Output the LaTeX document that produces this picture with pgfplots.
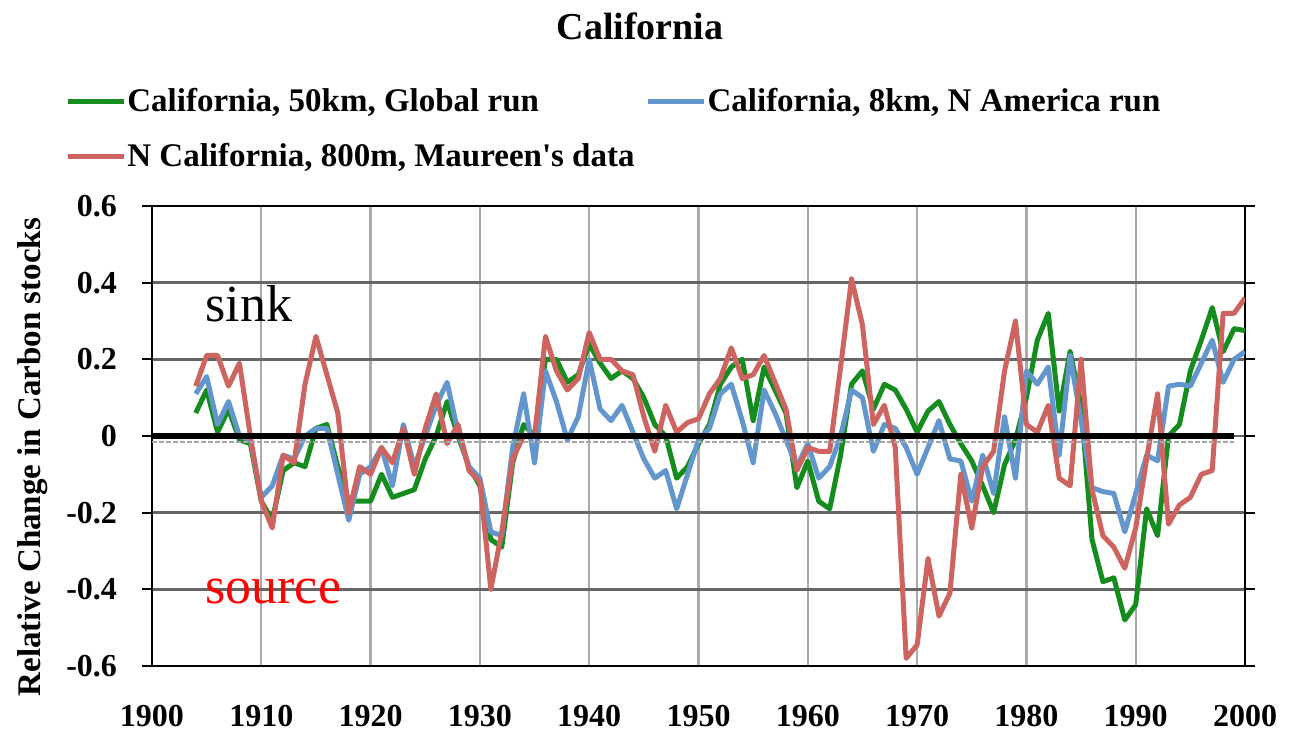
\documentclass[border=0pt]{standalone}
\usepackage{pgfplots}
\usepackage{pgfplotstable}
\pgfplotsset{compat=1.18}
\usepackage{fontspec}
\setmainfont{Liberation Serif}

\definecolor{cgreen}{RGB}{20,140,30}
\definecolor{cblue}{RGB}{98,150,205}
\definecolor{cred}{RGB}{205,100,95}

\pgfplotstableread{
year g b r
1904 0.06 0.11 0.13
1905 0.12 0.155 0.21
1906 0.01 0.03 0.21
1907 0.07 0.09 0.13
1908 -0.01 0.00 0.19
1909 -0.02 -0.01 0.00
1910 -0.17 -0.16 -0.17
1911 -0.22 -0.13 -0.24
1912 -0.09 -0.05 -0.05
1913 -0.07 -0.06 -0.07
1914 -0.08 0.00 0.135
1915 0.02 0.02 0.26
1916 0.03 0.02 0.16
1917 -0.08 -0.10 0.06
1918 -0.17 -0.22 -0.20
1919 -0.17 -0.10 -0.08
1920 -0.17 -0.08 -0.10
1921 -0.10 -0.03 -0.03
1922 -0.16 -0.13 -0.07
1923 -0.15 0.03 0.02
1924 -0.14 -0.08 -0.10
1925 -0.06 0.00 0.02
1926 0.00 0.08 0.11
1927 0.09 0.14 -0.02
1928 0.00 0.01 0.03
1929 -0.08 -0.08 -0.09
1930 -0.13 -0.11 -0.12
1931 -0.27 -0.25 -0.40
1932 -0.29 -0.26 -0.25
1933 -0.07 -0.03 -0.06
1934 0.03 0.11 0.00
1935 0.00 -0.07 0.00
1936 0.20 0.17 0.26
1937 0.20 0.09 0.17
1938 0.14 -0.01 0.12
1939 0.16 0.05 0.15
1940 0.24 0.20 0.27
1941 0.19 0.07 0.20
1942 0.15 0.04 0.20
1943 0.17 0.08 0.17
1944 0.15 0.01 0.16
1945 0.10 -0.06 0.05
1946 0.03 -0.11 -0.04
1947 0.00 -0.09 0.08
1948 -0.11 -0.19 0.01
1949 -0.08 -0.10 0.035
1950 -0.02 -0.01 0.045
1951 0.03 0.02 0.11
1952 0.135 0.11 0.15
1953 0.18 0.135 0.23
1954 0.20 0.04 0.15
1955 0.04 -0.07 0.16
1956 0.18 0.12 0.21
1957 0.12 0.06 0.14
1958 0.06 -0.01 0.07
1959 -0.135 -0.08 -0.09
1960 -0.065 -0.02 -0.03
1961 -0.17 -0.11 -0.04
1962 -0.19 -0.08 -0.04
1963 -0.05 0.00 0.18
1964 0.135 0.12 0.41
1965 0.17 0.10 0.29
1966 0.07 -0.04 0.03
1967 0.135 0.03 0.08
1968 0.12 0.02 -0.03
1969 0.07 -0.03 -0.58
1970 0.01 -0.10 -0.545
1971 0.065 -0.03 -0.32
1972 0.09 0.04 -0.47
1973 0.03 -0.06 -0.41
1974 -0.02 -0.065 -0.10
1975 -0.065 -0.17 -0.24
1976 -0.13 -0.05 -0.08
1977 -0.20 -0.15 -0.04
1978 -0.075 0.05 0.17
1979 -0.01 -0.11 0.30
1980 0.10 0.17 0.03
1981 0.25 0.135 0.01
1982 0.32 0.18 0.08
1983 0.065 -0.05 -0.11
1984 0.22 0.21 -0.13
1985 0.08 0.04 0.20
1986 -0.27 -0.135 -0.14
1987 -0.38 -0.145 -0.26
1988 -0.37 -0.15 -0.29
1989 -0.48 -0.25 -0.345
1990 -0.44 -0.15 -0.24
1991 -0.19 -0.05 -0.06
1992 -0.26 -0.065 0.11
1993 0.00 0.13 -0.23
1994 0.03 0.135 -0.18
1995 0.17 0.13 -0.16
1996 0.25 0.19 -0.10
1997 0.335 0.25 -0.09
1998 0.22 0.14 0.32
1999 0.28 0.20 0.32
2000 0.275 0.22 0.36
}\datatable

\begin{document}
\begin{tikzpicture}
\path[use as bounding box] (-76pt,-33.5pt) rectangle (571.5pt,333pt);
\begin{axis}[
  at={(0,0)}, anchor=south west,
  scale only axis, width=546.5pt, height=230pt,
  xmin=1900, xmax=2000, ymin=-0.6, ymax=0.6,
  xtick={1900,1910,...,2000},
  xticklabels={1900,1910,1920,1930,1940,1950,1960,1970,1980,1990,2000},
  ytick={-0.6,-0.4,-0.2,0,0.2,0.4,0.6},
  yticklabels={-0.6,-0.4,-0.2,0,0.2,0.4,0.6},
  grid=major,
  x grid style={color=black!33, line width=1.2pt},
  y grid style={color=black!60, line width=1.2pt},
  axis line style={black, line width=1pt},
  tick align=outside, major tick length=5pt,
  ytick style={black, line width=1pt},
  xtick style={draw=none},
  tick label style={font=\fontsize{16}{18}\selectfont\bfseries},
  xticklabel shift=11pt, yticklabel shift=9pt,
  ylabel={Relative Change in Carbon stocks},
  ylabel style={font=\fontsize{16.5}{19}\selectfont\bfseries, at={(axis description cs:-0.109,0.454)}, anchor=center},
  title={California},
  title style={font=\fontsize{19}{22}\selectfont\bfseries, at={(axis description cs:0.4465,1.365)}, anchor=center},
  legend columns=2,
  legend cell align=left,
  legend style={at={(axis description cs:-0.0796,1.258)}, anchor=north west, draw=none, fill=none, inner sep=0pt,
    font=\fontsize{16.5}{19}\selectfont\bfseries, row sep=13pt,
    /tikz/every even column/.append style={column sep=5pt}, nodes={inner sep=0.5pt}},
  legend image code/.code={\draw[#1, line width=2.5pt] (0pt,0pt) -- (28pt,0pt);},
  every axis plot/.append style={line width=2.5pt, line join=round, mark=none},
]
\addplot[cgreen] table[x=year,y=g]{\datatable};
\addlegendentry{California, 50km, Global run}
\addplot[cblue] table[x=year,y=b]{\datatable};
\addlegendentry{California, 8km, N America run}
\addplot[cred] table[x=year,y=r]{\datatable};
\addlegendentry{N California, 800m, Maureen{\addfontfeatures{Ligatures=TeXOff}'}s data}
\addplot[black!35, densely dotted, line width=1pt, forget plot] coordinates {(1900,-0.016) (1999,-0.016)};
\addplot[black, line width=3pt, forget plot] coordinates {(1900,0) (1999,0)};
\node[anchor=base west, font=\fontsize{26}{30}\selectfont, inner sep=0pt] at (axis cs:1904.85,0.298) {sink};
\node[anchor=base west, font=\fontsize{26}{30}\selectfont, text=red, inner sep=0pt] at (axis cs:1904.85,-0.436) {source};
\end{axis}
\end{tikzpicture}
\end{document}
